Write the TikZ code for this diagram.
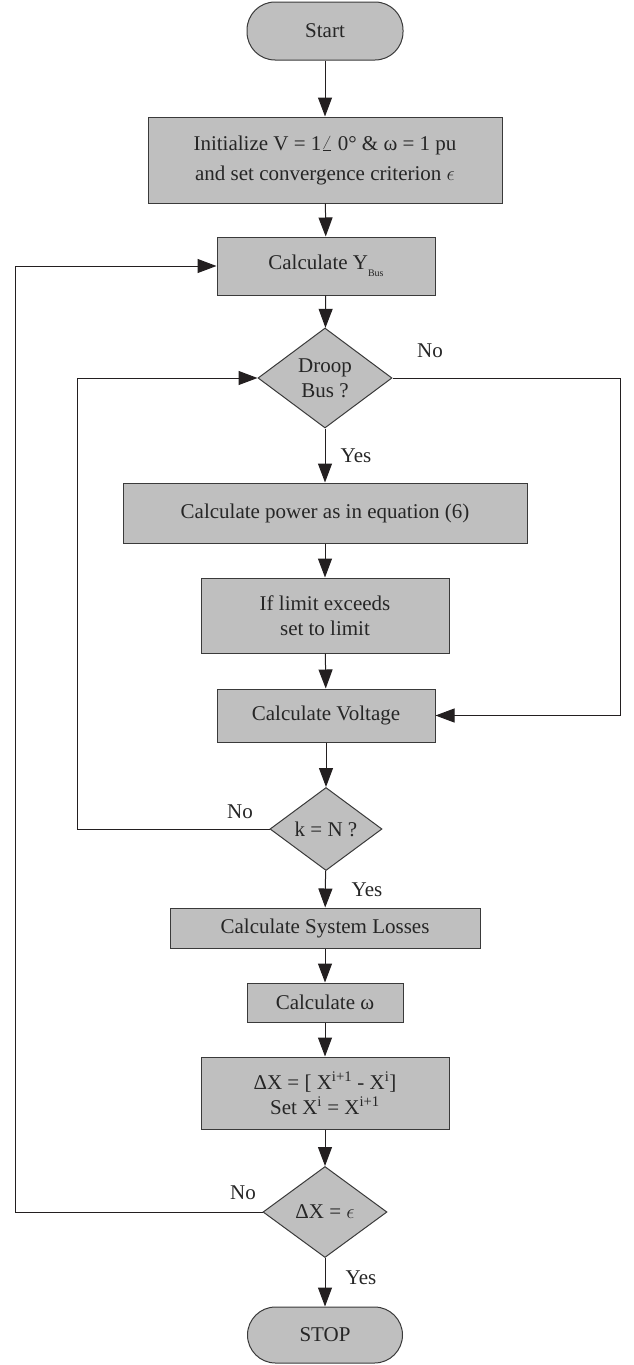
\documentclass[tikz,border=0pt]{standalone}
\usepackage{fontspec}
\setmainfont{Liberation Serif}
\usetikzlibrary{arrows.meta,shapes.geometric}
\definecolor{boxfill}{HTML}{BFBFBF}
\definecolor{boxline}{HTML}{3A3A3A}
\definecolor{linec}{HTML}{231F20}
\begin{document}
\begin{tikzpicture}[x=1pt,y=-1pt,
  font=\fontsize{21}{25}\selectfont,
  base/.style={draw=boxline, fill=boxfill, line width=1pt, inner sep=0pt, align=center, text=black!85},
  procbox/.style={base, rectangle},
  termbox/.style={base, rectangle, rounded corners=28pt},
  decide/.style={base, diamond},
  arr/.style={draw=linec, line width=1pt, -{Triangle[length=19pt,width=14pt]}},
  lbl/.style={inner sep=0pt, text=black!85}]
\useasboundingbox (0,0) rectangle (633,1365);

\node[termbox, minimum width=156pt, minimum height=58pt] (start) at (325,31) {Start};
\node[procbox, minimum width=354pt, minimum height=86pt, font=\fontsize{21}{30}\selectfont] (init) at (325,160)
  {Initialize V = 1$\angle$ 0° \& ω = 1 pu\\ and set convergence criterion $\epsilon$};
\node[procbox, minimum width=218pt, minimum height=58pt] (ybus) at (326,266)
  {Calculate Y\raisebox{-0.7ex}{\fontsize{10}{10}\selectfont Bus}};
\node[decide, minimum width=134pt, minimum height=100pt, aspect=1.34] (droop) at (325,378) {Droop\\Bus ?};
\node[procbox, minimum width=404pt, minimum height=60pt] (power) at (325,513) {Calculate power as in equation (6)};
\node[procbox, minimum width=248pt, minimum height=75pt] (limit) at (325,615.5) {If limit exceeds\\set to limit};
\node[procbox, minimum width=218pt, minimum height=53pt] (volt) at (326,715.5) {Calculate Voltage};
\node[decide, minimum width=112pt, minimum height=83pt, aspect=1.35] (kn) at (326,829) {k = N ?};
\node[procbox, minimum width=310pt, minimum height=40pt] (loss) at (325,928) {Calculate System Losses};
\node[procbox, minimum width=156pt, minimum height=39pt] (omega) at (325,1002.5) {Calculate ω};
\node[procbox, minimum width=248pt, minimum height=72pt] (dx) at (325,1093)
  {ΔX = [ X\textsuperscript{i+1} - X\textsuperscript{i}]\\ Set X\textsuperscript{i} = X\textsuperscript{i+1}};
\node[decide, minimum width=124pt, minimum height=91pt, aspect=1.36] (dxe) at (325,1212) {ΔX = $\epsilon$};
\node[termbox, minimum width=155pt, minimum height=56pt] (stop) at (325,1335) {STOP};

\draw[arr] (start) -- (init);
\draw[arr] (init) -- (ybus);
\draw[arr] (ybus) -- (droop);
\draw[arr] (droop) -- (power);
\draw[arr] (power) -- (limit);
\draw[arr] (limit) -- (volt);
\draw[arr] (volt) -- (kn);
\draw[arr] (kn) -- (loss);
\draw[arr] (loss) -- (omega);
\draw[arr] (omega) -- (dx);
\draw[arr] (dx) -- (dxe);
\draw[arr] (dxe) -- (stop);

\coordinate (L1) at (15,0);
\coordinate (L2) at (77,0);
\coordinate (R) at (620,0);
\draw[arr] (dxe.west) -- (dxe.west -| L1) |- (ybus.west);
\draw[arr] (kn.west) -- (kn.west -| L2) |- (droop.west);
\draw[arr] (droop.east) -- (droop.east -| R) |- (volt.east);

\node[lbl] (no1) at (430,351) {No};
\node[lbl] (yes1) at (356,456) {Yes};
\node[lbl] (no2) at (240,812) {No};
\node[lbl] (yes2) at (367,890) {Yes};
\node[lbl] (no3) at (243,1193) {No};
\node[lbl] (yes3) at (361,1278) {Yes};
\end{tikzpicture}
\end{document}
